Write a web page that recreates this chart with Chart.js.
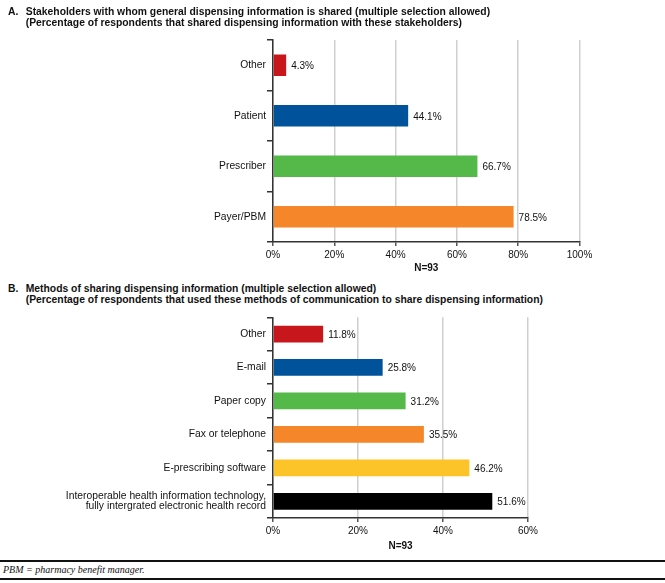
<!DOCTYPE html>
<html>
<head>
<meta charset="utf-8">
<script src="https://cdn.jsdelivr.net/npm/chart.js@4"></script>
<style>
  html, body { margin: 0; padding: 0; background: #fff; }
  body { width: 665px; height: 583px; position: relative; overflow: hidden; font-family: "Liberation Sans", Arial, sans-serif; }
  canvas { position: absolute; left: 0; }
  #chartA { top: 0; }
  #chartB { top: 306px; }
  .title { position: absolute; left: 8px; font-weight: bold; font-size: 10.5px; line-height: 11px; color: #111; white-space: nowrap; transform-origin: 0 0; transform: scaleX(0.985); z-index: 2; }
  .title span.k { display: inline-block; width: 18px; }
  .title .l2 { padding-left: 18px; }
  #titleA { top: 6px; }
  #titleB { top: 283px; }
  .rule { position: absolute; left: 0; width: 665px; background: #111; }
  #rule1 { top: 560px; height: 1.5px; }
  #rule2 { top: 577.5px; height: 2.5px; }
  #note { position: absolute; left: 3px; top: 564px; font-family: "Liberation Serif", serif; font-style: italic; font-size: 10px; color: #111; }
</style>
</head>
<body>
<canvas id="chartA" width="665" height="274"></canvas>
<canvas id="chartB" width="665" height="246"></canvas>
<div class="title" id="titleA"><span class="k">A.</span>Stakeholders with whom general dispensing information is shared (multiple selection allowed)<br><span class="l2">(Percentage of respondents that shared dispensing information with these stakeholders)</span></div>
<div class="title" id="titleB"><span class="k">B.</span>Methods of sharing dispensing information (multiple selection allowed)<br><span class="l2">(Percentage of respondents that used these methods of communication to share dispensing information)</span></div>
<div class="rule" id="rule1"></div>
<div id="note">PBM = pharmacy benefit manager.</div>
<div class="rule" id="rule2"></div>
<script>
const RED = '#c8161d', BLUE = '#00529b', GREEN = '#55b94a', ORANGE = '#f5862a', YELLOW = '#fdc42a', BLACK = '#000000';

// Panel A
const catsA = ['Other', 'Patient', 'Prescriber', 'Payer/PBM'];
const valsA = [4.3, 44.1, 66.7, 78.5];
const colorsA = [RED, BLUE, GREEN, ORANGE];
const maxA = 100;

// Panel B
const catsB = ['Other', 'E-mail', 'Paper copy', 'Fax or telephone', 'E-prescribing software',
  ['Interoperable health information technology,', 'fully intergrated electronic health record']];
const valsB = [11.8, 25.8, 31.2, 35.5, 46.2, 51.6];
const colorsB = [RED, BLUE, GREEN, ORANGE, YELLOW, BLACK];
const maxB = 60;

const tickStep = 20;
const sampleLabel = 'N=93';

const FONT = '"Liberation Sans", Arial, sans-serif';

// value labels to the right of each bar
const valueLabels = {
  id: 'valueLabels',
  afterDatasetsDraw(chart) {
    const ctx = chart.ctx;
    const ds = chart.data.datasets[0];
    ctx.save();
    ctx.font = '10px ' + FONT;
    ctx.fillStyle = '#111';
    ctx.textBaseline = 'middle';
    chart.getDatasetMeta(0).data.forEach((bar, i) => {
      ctx.fillText(ds.data[i].toFixed(1) + '%', bar.x + 5, bar.y + 1);
    });
    ctx.restore();
  }
};

function makeChart(id, cats, vals, colors, max, pad, axisH, barPct) {
  return new Chart(document.getElementById(id), {
    type: 'bar',
    data: {
      labels: cats,
      datasets: [{
        data: vals,
        backgroundColor: colors,
        borderWidth: 0,
        barPercentage: barPct,
        categoryPercentage: 1
      }]
    },
    plugins: [valueLabels],
    options: {
      indexAxis: 'y',
      responsive: false,
      animation: false,
      devicePixelRatio: 1,
      layout: { padding: pad },
      plugins: { legend: { display: false }, tooltip: { enabled: false } },
      scales: {
        x: {
          min: 0,
          max: max,
          afterFit(scale) { scale.height = axisH; },
          border: { display: true, color: '#333', width: 1.5 },
          grid: { color: '#cfcfcf', lineWidth: 1.5, tickLength: 4, tickColor: '#555' },
          ticks: {
            stepSize: tickStep,
            padding: 3,
            color: '#111',
            font: { family: FONT, size: 10 },
            callback: v => v + '%'
          },
          title: {
            display: true,
            text: sampleLabel,
            color: '#111',
            padding: 0,
            font: { family: FONT, size: 10, weight: 'bold' }
          }
        },
        y: {
          afterFit(scale) { scale.width = 273; },
          border: { display: true, color: '#333', width: 1.5 },
          grid: { offset: true, drawOnChartArea: false, tickLength: 6, tickColor: '#333', lineWidth: 1.5 },
          ticks: {
            padding: 1,
            color: '#111',
            font: { family: FONT, size: 10.3, lineHeight: 1.0 }
          }
        }
      }
    }
  });
}

makeChart('chartA', catsA, valsA, colorsA, maxA, { top: 40, right: 85.5, left: 0, bottom: 0 }, 32, 0.43);
makeChart('chartB', catsB, valsB, colorsB, maxB, { top: 10, right: 137, left: 0, bottom: 0 }, 34, 0.5);
</script>
</body>
</html>
